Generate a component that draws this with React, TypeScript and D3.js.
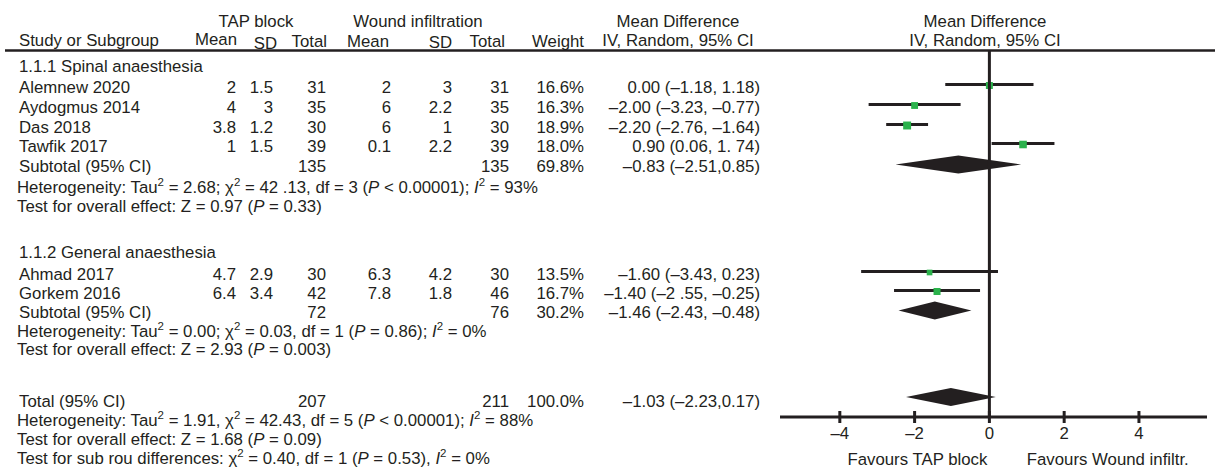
import React from "react";
import * as d3 from "d3";

// Forest plot: TAP block vs wound infiltration
const studies = ["Alemnew 2020", "Aydogmus 2014", "Das 2018", "Tawfik 2017", "Ahmad 2017", "Gorkem 2016"];
const tapMean = [2, 4, 3.8, 1, 4.7, 6.4];
const tapSD = [1.5, 3, 1.2, 1.5, 2.9, 3.4];
const tapTotal = [31, 35, 30, 39, 30, 42];
const wiMean = [2, 6, 6, 0.1, 6.3, 7.8];
const wiSD = [3, 2.2, 1, 2.2, 4.2, 1.8];
const wiTotal = [31, 35, 30, 39, 30, 46];
const weights = [16.6, 16.3, 18.9, 18.0, 13.5, 16.7];
const md = [0, -2.0, -2.2, 0.9, -1.6, -1.4];
const ciLow = [-1.18, -3.23, -2.76, 0.06, -3.43, -2.55];
const ciHigh = [1.18, -0.77, -1.64, 1.74, 0.23, -0.25];
const ciLabels = [
  "0.00 (\u20131.18, 1.18)",
  "\u20132.00 (\u20133.23, \u20130.77)",
  "\u20132.20 (\u20132.76, \u20131.64)",
  "0.90 (0.06, 1. 74)",
  "\u20131.60 (\u20133.43, 0.23)",
  "\u20131.40 (\u20132 .55, \u20130.25)",
];

const groupNames = ["1.1.1 Spinal anaesthesia", "1.1.2 General anaesthesia"];
const subTapTotal = [135, 72];
const subWiTotal = [135, 76];
const subWeight = ["69.8%", "30.2%"];
const subMd = [-0.83, -1.46];
const subLow = [-2.51, -2.43];
const subHigh = [0.85, -0.48];
const subLabels = ["\u20130.83 (\u20132.51,0.85)", "\u20131.46 (\u20132.43, \u20130.48)"];
const subHetero = [
  "Heterogeneity: Tau^2 = 2.68; \u03c7^2 = 42 .13, df = 3 (_P_ < 0.00001); _I_^2 = 93%",
  "Heterogeneity: Tau^2 = 0.00; \u03c7^2 = 0.03, df = 1 (_P_ = 0.86); _I_^2 = 0%",
];
const subEffect = [
  "Test for overall effect: Z = 0.97 (_P_ = 0.33)",
  "Test for overall effect: Z = 2.93 (_P_ = 0.003)",
];

const totalRow = { tap: 207, wi: 211, weight: "100.0%", md: -1.03, lo: -2.23, hi: 0.17, label: "\u20131.03 (\u20132.23,0.17)" };
const totalNotes = [
  "Heterogeneity: Tau^2 = 1.91, \u03c7^2 = 42.43, df = 5 (_P_ < 0.00001); _I_^2 = 88%",
  "Test for overall effect: Z = 1.68 (_P_ = 0.09)",
  "Test for sub rou differences: \u03c7^2 = 0.40, df = 1 (_P_ = 0.53), _I_^2 = 0%",
];

const xTicks = [-4, -2, 0, 2, 4];

const W = 1215;
const H = 472;
const ink = "#231f20";
const green = "#2bb24c";
const font = "'Liberation Sans', Arial, sans-serif";
const fs = 16.8;

// layout: vertical centre of each printed line
const lineY = {
  group: [66, 252],
  study: [87, 107, 127, 146, 274, 293],
  sub: [166, 312],
  hetero: [187, 331],
  effect: [206, 349],
  total: 401,
  notes: [420, 439, 458],
};
const base = 6; // text baseline below line centre
const markDy = -2.5; // marks sit a bit above the text centre

const x = d3.scaleLinear().domain([-5.6, 5.82]).range([780, 1207]);
const box = d3.scaleLinear().domain([0, 20]).range([0, 8.4]);
const axisY = 417;

// columns (right edges)
const col = { tapMean: 236, tapSD: 273, tapTotal: 326, wiMean: 391, wiSD: 452, wiTotal: 509, weight: 584, ci: 760 };

// tiny markup: ^2 superscript, _X_ italic
const Rich = ({ s, x0, y0 }) => {
  const parts = s.split(/(\^2|_[^_]+_)/).filter((p) => p !== "");
  const out = [];
  let up = false;
  parts.forEach((p, i) => {
    if (p === "^2") {
      out.push(
        <tspan key={i} fontSize={11.5} dy={-7}>
          2
        </tspan>
      );
      up = true;
    } else {
      const it = p.startsWith("_");
      out.push(
        <tspan key={i} fontStyle={it ? "italic" : "normal"} dy={up ? 7 : 0}>
          {it ? p.slice(1, -1) : p}
        </tspan>
      );
      up = false;
    }
  });
  return (
    <text x={x0} y={y0}>
      {out}
    </text>
  );
};

const Diamond = ({ lo, mid, hi, y }) => {
  const path = d3.line()([
    [x(lo), y],
    [x(mid), y - 9],
    [x(hi), y],
    [x(mid), y + 9],
  ]);
  return <path d={path + "Z"} fill={ink} />;
};

export default function App() {
  return (
    <svg
      width={W}
      height={H}
      style={{ position: "absolute", left: 0, top: 0, background: "#fff" }}
      fontFamily={font}
      fontSize={fs}
      fill={ink}
    >
      {/* headers */}
      <g>
        <text x={256} y={27} textAnchor="middle">TAP block</text>
        <text x={418} y={27} textAnchor="middle">Wound infiltration</text>
        <text x={678} y={27} textAnchor="middle">Mean Difference</text>
        <text x={985} y={27} textAnchor="middle">Mean Difference</text>
        <text x={19} y={46}>Study or Subgroup</text>
        <text x={col.tapMean + 1} y={45} textAnchor="end">Mean</text>
        <text x={277} y={49} textAnchor="end">SD</text>
        <text x={327} y={47} textAnchor="end">Total</text>
        <text x={347} y={47}>Mean</text>
        <text x={452} y={48} textAnchor="end">SD</text>
        <text x={505} y={47} textAnchor="end">Total</text>
        <text x={col.weight} y={47} textAnchor="end">Weight</text>
        <text x={678} y={46} textAnchor="middle">IV, Random, 95% CI</text>
        <text x={985} y={46} textAnchor="middle">IV, Random, 95% CI</text>
        <line x1={5} x2={W} y1={50.5} y2={50.5} stroke={ink} strokeWidth={2.5} />
      </g>

      {/* group headings + subtotals */}
      {groupNames.map((g, gi) => {
        const ys = lineY.sub[gi];
        return (
          <g key={g}>
            <text x={19} y={lineY.group[gi] + base}>{g}</text>
            <text x={19} y={ys + base}>Subtotal (95% CI)</text>
            <text x={col.tapTotal} y={ys + base} textAnchor="end">{subTapTotal[gi]}</text>
            <text x={col.wiTotal} y={ys + base} textAnchor="end">{subWiTotal[gi]}</text>
            <text x={col.weight} y={ys + base} textAnchor="end">{subWeight[gi]}</text>
            <text x={col.ci} y={ys + base} textAnchor="end">{subLabels[gi]}</text>
            <Rich s={subHetero[gi]} x0={17} y0={lineY.hetero[gi] + base} />
            <Rich s={subEffect[gi]} x0={17} y0={lineY.effect[gi] + base} />
            <Diamond lo={subLow[gi]} mid={subMd[gi]} hi={subHigh[gi]} y={ys + markDy + 1} />
          </g>
        );
      })}

      {/* studies */}
      {studies.map((s, i) => {
        const y = lineY.study[i];
        const ym = y + markDy;
        const b = box(weights[i]);
        return (
          <g key={s}>
            <text x={19} y={y + base}>{s}</text>
            <text x={col.tapMean} y={y + base} textAnchor="end">{tapMean[i]}</text>
            <text x={col.tapSD} y={y + base} textAnchor="end">{tapSD[i]}</text>
            <text x={col.tapTotal} y={y + base} textAnchor="end">{tapTotal[i]}</text>
            <text x={col.wiMean} y={y + base} textAnchor="end">{wiMean[i]}</text>
            <text x={col.wiSD} y={y + base} textAnchor="end">{wiSD[i]}</text>
            <text x={col.wiTotal} y={y + base} textAnchor="end">{wiTotal[i]}</text>
            <text x={col.weight} y={y + base} textAnchor="end">{weights[i].toFixed(1)}%</text>
            <text x={col.ci} y={y + base} textAnchor="end">{ciLabels[i]}</text>
            <line x1={x(ciLow[i])} x2={x(ciHigh[i])} y1={ym} y2={ym} stroke={ink} strokeWidth={2.8} />
            <rect x={x(md[i]) - b / 2} y={ym - b / 2 + 1} width={b} height={b} fill={green} />
          </g>
        );
      })}

      {/* overall */}
      <g>
        <text x={19} y={lineY.total + base}>Total (95% CI)</text>
        <text x={col.tapTotal} y={lineY.total + base} textAnchor="end">{totalRow.tap}</text>
        <text x={col.wiTotal} y={lineY.total + base} textAnchor="end">{totalRow.wi}</text>
        <text x={col.weight} y={lineY.total + base} textAnchor="end">{totalRow.weight}</text>
        <text x={col.ci} y={lineY.total + base} textAnchor="end">{totalRow.label}</text>
        <Diamond lo={totalRow.lo} mid={totalRow.md} hi={totalRow.hi} y={lineY.total - 4} />
        {totalNotes.map((n, i) => (
          <Rich key={i} s={n} x0={17} y0={lineY.notes[i] + base} />
        ))}
      </g>

      {/* zero line + axis */}
      <line x1={x(0)} x2={x(0)} y1={51} y2={axisY} stroke={ink} strokeWidth={3} />
      <line x1={x.range()[0]} x2={x.range()[1]} y1={axisY} y2={axisY} stroke={ink} strokeWidth={2.8} />
      {xTicks.map((t) => (
        <g key={t}>
          <line x1={x(t)} x2={x(t)} y1={axisY - 6} y2={axisY + 6} stroke={ink} strokeWidth={3} />
          <text x={x(t)} y={axisY + 22} textAnchor="middle">
            {t < 0 ? "\u2013" + Math.abs(t) : t}
          </text>
        </g>
      ))}
      <text x={x(0) - 2} y={axisY + 48} textAnchor="end">Favours TAP block</text>
      <text x={x(1)} y={axisY + 48}>Favours Wound infiltr.</text>
    </svg>
  );
}
